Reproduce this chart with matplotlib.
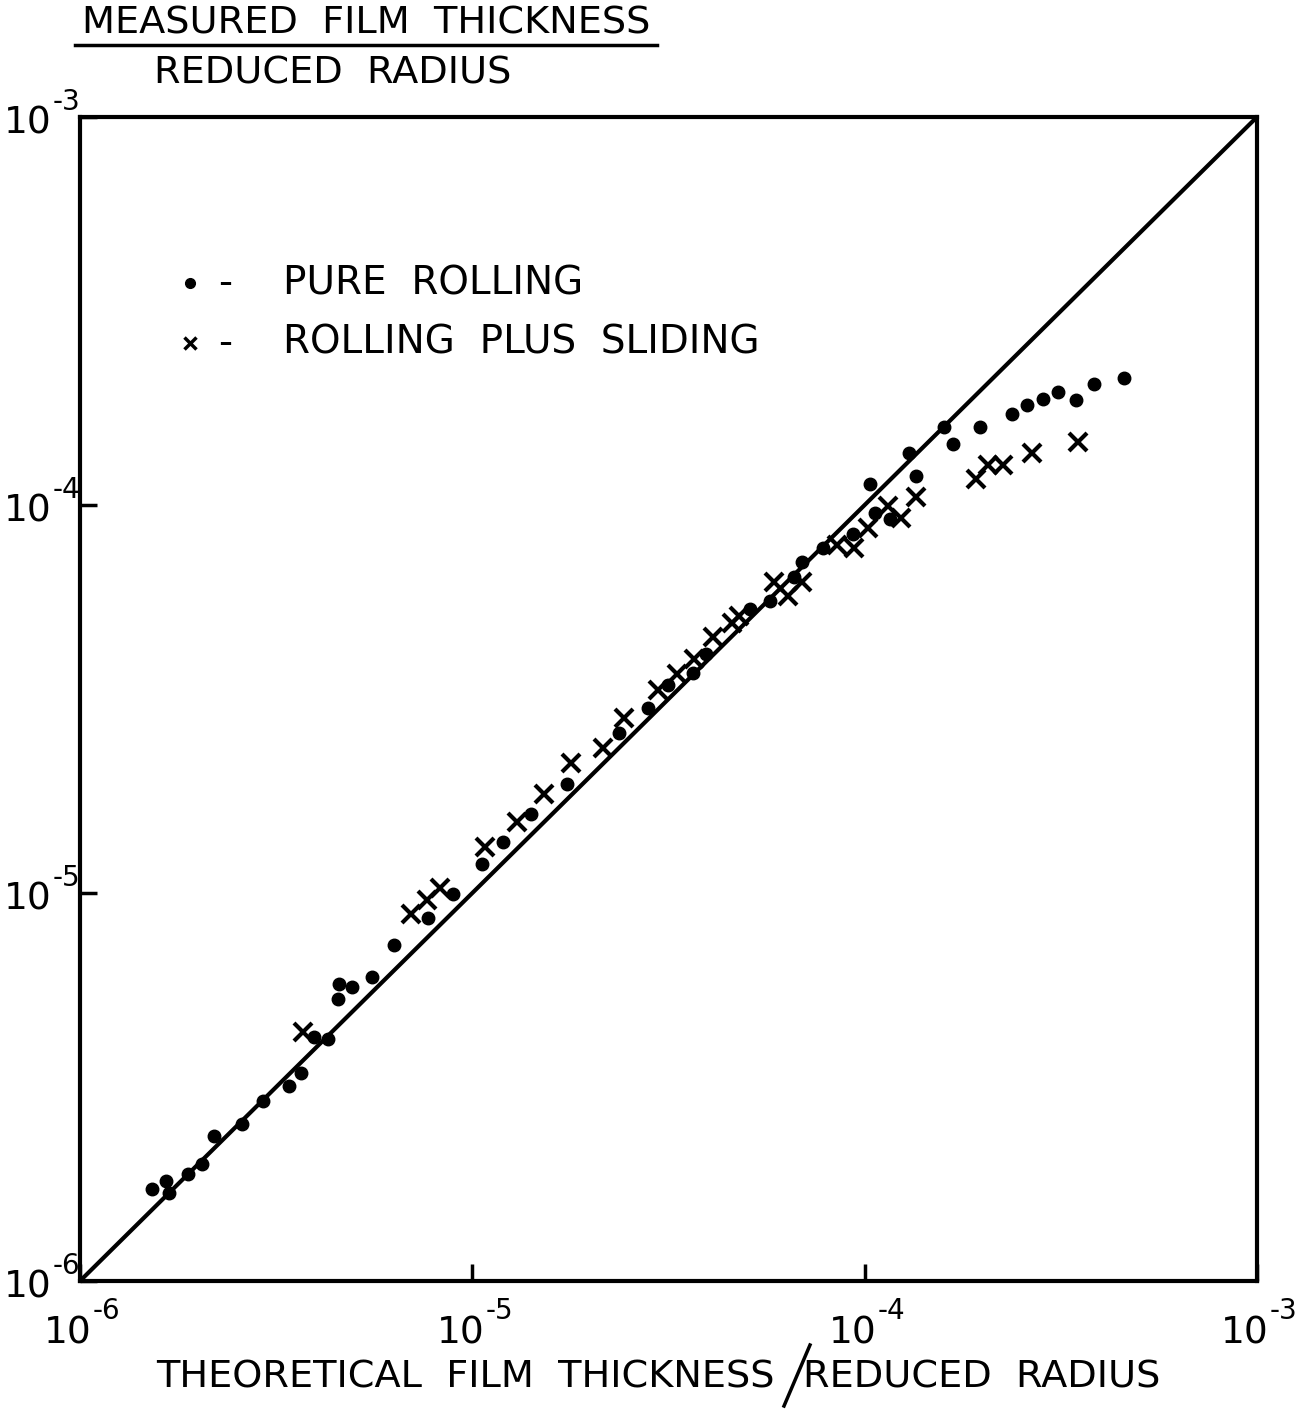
import matplotlib
matplotlib.use('Agg')
import matplotlib.pyplot as plt
import numpy as np

# pure rolling (dots): theoretical h/R, measured h/R
rolling_x = [1.53e-6, 1.66e-6, 1.69e-6, 1.89e-6, 2.05e-6, 2.20e-6, 2.59e-6, 2.93e-6, 3.41e-6, 3.66e-6,
             3.95e-6, 4.29e-6, 4.55e-6, 4.58e-6, 4.94e-6, 5.56e-6, 6.32e-6, 7.72e-6, 8.94e-6, 1.06e-5,
             1.20e-5, 1.41e-5, 1.74e-5, 2.37e-5, 2.80e-5, 3.16e-5, 3.66e-5, 3.95e-5, 5.09e-5, 5.73e-5,
             6.59e-5, 6.91e-5, 7.82e-5, 9.32e-5, 1.03e-4, 1.06e-4, 1.16e-4, 1.30e-4, 1.35e-4, 1.59e-4,
             1.68e-4, 1.97e-4, 2.37e-4, 2.60e-4, 2.85e-4, 3.11e-4, 3.45e-4, 3.84e-4, 4.58e-4]
rolling_y = [1.73e-6, 1.81e-6, 1.69e-6, 1.89e-6, 2.00e-6, 2.37e-6, 2.54e-6, 2.91e-6, 3.18e-6, 3.44e-6,
             4.26e-6, 4.21e-6, 5.34e-6, 5.83e-6, 5.73e-6, 6.08e-6, 7.36e-6, 8.64e-6, 9.96e-6, 1.19e-5,
             1.35e-5, 1.60e-5, 1.91e-5, 2.58e-5, 2.99e-5, 3.43e-5, 3.68e-5, 4.12e-5, 5.38e-5, 5.67e-5,
             6.51e-5, 7.15e-5, 7.73e-5, 8.40e-5, 1.13e-4, 9.51e-5, 9.18e-5, 1.36e-4, 1.19e-4, 1.59e-4,
             1.44e-4, 1.59e-4, 1.72e-4, 1.81e-4, 1.88e-4, 1.96e-4, 1.87e-4, 2.05e-4, 2.12e-4]

# rolling plus sliding (crosses)
sliding_x = [3.71e-6, 6.99e-6, 7.68e-6, 8.29e-6, 1.08e-5, 1.30e-5, 1.52e-5, 1.78e-5, 2.15e-5, 2.44e-5,
             2.97e-5, 3.33e-5, 3.68e-5, 4.10e-5, 4.58e-5, 4.77e-5, 5.86e-5, 6.36e-5, 6.91e-5, 8.48e-5,
             9.37e-5, 1.02e-4, 1.15e-4, 1.24e-4, 1.35e-4, 1.92e-4, 2.06e-4, 2.25e-4, 2.67e-4, 3.49e-4]
sliding_y = [4.39e-6, 8.84e-6, 9.61e-6, 1.03e-5, 1.31e-5, 1.52e-5, 1.80e-5, 2.16e-5, 2.36e-5, 2.83e-5,
             3.33e-5, 3.66e-5, 4.02e-5, 4.56e-5, 4.95e-5, 5.19e-5, 6.35e-5, 5.81e-5, 6.32e-5, 7.91e-5,
             7.77e-5, 8.70e-5, 9.97e-5, 9.24e-5, 1.05e-4, 1.17e-4, 1.27e-4, 1.27e-4, 1.36e-4, 1.45e-4]

decades = [1e-6, 1e-5, 1e-4, 1e-3]
exponents = ['-6', '-5', '-4', '-3']

plt.rcParams['font.family'] = ['DejaVu Sans']

fig = plt.figure(figsize=(13.08, 14.09), dpi=100)
ax = fig.add_axes([80 / 1308, 1 - 1281 / 1409, 1177 / 1308, 1164 / 1409])
ax.set_xscale('log')
ax.set_yscale('log')
ax.set_xlim(1e-6, 1e-3)
ax.set_ylim(1e-6, 1e-3)

# theory = measurement
ax.plot([1e-6, 1e-3], [1e-6, 1e-3], color='black', lw=3, solid_capstyle='round')
ax.plot(rolling_x, rolling_y, 'o', color='black', ms=9, ls='none')
ax.plot(sliding_x, sliding_y, 'x', color='black', ms=13, mew=3, ls='none')

for s in ax.spines.values():
    s.set_linewidth(3)
ax.minorticks_off()
ax.set_xticks(decades)
ax.set_yticks(decades)
ax.set_xticklabels([])
ax.set_yticklabels([])
ax.tick_params(direction='in', length=12, width=2.5)

# hand-placed "10" with a small raised exponent
for d, e in zip(decades, exponents):
    ax.annotate('10', xy=(d, 1e-6), xytext=(-12, -62), textcoords='offset pixels',
                fontsize=27, ha='center', va='baseline', annotation_clip=False)
    ax.annotate(e, xy=(d, 1e-6), xytext=(13, -38), textcoords='offset pixels',
                fontsize=20, ha='left', va='baseline', annotation_clip=False)
    ax.annotate('10', xy=(1e-6, d), xytext=(-52, -17), textcoords='offset pixels',
                fontsize=27, ha='center', va='baseline', annotation_clip=False)
    ax.annotate(e, xy=(1e-6, d), xytext=(-27, 7), textcoords='offset pixels',
                fontsize=20, ha='left', va='baseline', annotation_clip=False)

# legend drawn as text, like the original
ax.plot([0.0935], [0.857], 'o', color='black', ms=7, transform=ax.transAxes, clip_on=False)
ax.plot([0.0935], [0.806], 'x', color='black', ms=9, mew=2.5, transform=ax.transAxes, clip_on=False)
ax.text(0.117, 0.857, '-', fontsize=28, va='center', transform=ax.transAxes)
ax.text(0.1725, 0.857, 'PURE  ROLLING', fontsize=28, va='center', transform=ax.transAxes)
ax.text(0.117, 0.806, '-', fontsize=28, va='center', transform=ax.transAxes)
ax.text(0.1725, 0.806, 'ROLLING  PLUS  SLIDING', fontsize=28, va='center', transform=ax.transAxes)

# y label as a fraction at the top left
fig.text(366 / 1308, 1 - 24 / 1409, 'MEASURED  FILM  THICKNESS', fontsize=27.5, ha='center', va='center')
fig.add_artist(plt.Line2D([75 / 1308, 657 / 1308], [1 - 45 / 1409, 1 - 45 / 1409], color='black', lw=2.5))
fig.text(333 / 1308, 1 - 74 / 1409, 'REDUCED  RADIUS', fontsize=27.5, ha='center', va='center')

# x label with a slash
fig.text(465 / 1308, 1 - 1378 / 1409, 'THEORETICAL  FILM  THICKNESS', fontsize=27.5, ha='center', va='center')
fig.add_artist(plt.Line2D([810 / 1308, 784 / 1308], [1 - 1345 / 1409, 1 - 1406 / 1409], color='black', lw=2.5))
fig.text(982 / 1308, 1 - 1378 / 1409, 'REDUCED  RADIUS', fontsize=27.5, ha='center', va='center')

fig.savefig('out.png', dpi=100)
